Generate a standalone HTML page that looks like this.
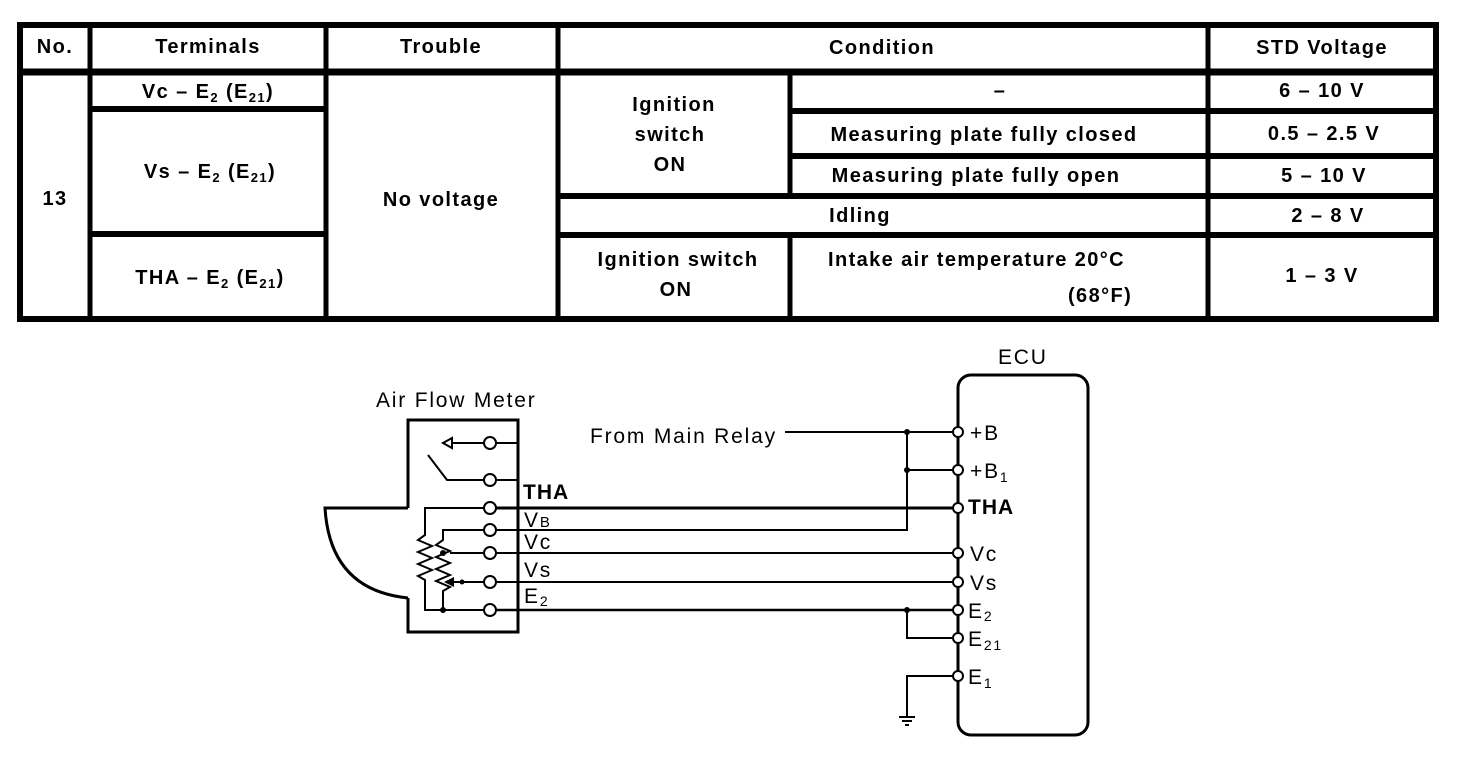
<!DOCTYPE html>
<html><head><style>
html,body{margin:0;padding:0;background:#fff;}
svg{display:block;}
text{font-family:"Liberation Sans",sans-serif;fill:#000;}
.b{font-weight:bold;font-size:20px;letter-spacing:1.4px;}
.n{font-size:21px;letter-spacing:1.8px;}
</style></head><body>
<svg width="1472" height="764" viewBox="0 0 1472 764" xmlns="http://www.w3.org/2000/svg">
<!-- TABLE -->
<g stroke="#000" fill="none">
<rect x="20" y="25" width="1416" height="294" stroke-width="6"/>
<line x1="18" y1="72" x2="1438" y2="72" stroke-width="7"/>
<line x1="90" y1="25" x2="90" y2="320" stroke-width="5"/>
<line x1="326" y1="25" x2="326" y2="320" stroke-width="5"/>
<line x1="558" y1="25" x2="558" y2="320" stroke-width="5"/>
<line x1="1208" y1="25" x2="1208" y2="320" stroke-width="5"/>
<line x1="790" y1="72" x2="790" y2="196" stroke-width="5"/>
<line x1="790" y1="235" x2="790" y2="320" stroke-width="5"/>
<line x1="90" y1="109" x2="326" y2="109" stroke-width="6"/>
<line x1="90" y1="234" x2="326" y2="234" stroke-width="6"/>
<line x1="790" y1="111" x2="1438" y2="111" stroke-width="6"/>
<line x1="790" y1="156" x2="1438" y2="156" stroke-width="6"/>
<line x1="558" y1="196" x2="1438" y2="196" stroke-width="6"/>
<line x1="558" y1="235" x2="1438" y2="235" stroke-width="6"/>
</g>
<g class="b" text-anchor="middle">
<text x="55" y="53">No.</text>
<text x="208" y="53">Terminals</text>
<text x="441" y="53">Trouble</text>
<text x="882" y="54">Condition</text>
<text x="1322" y="54">STD Voltage</text>
<text x="55" y="205">13</text>
<text x="208" y="98">Vc – E<tspan font-size="13" dy="4">2</tspan><tspan dy="-4"> (E</tspan><tspan font-size="13" dy="4">21</tspan><tspan dy="-4">)</tspan></text>
<text x="210" y="178">Vs – E<tspan font-size="13" dy="4">2</tspan><tspan dy="-4"> (E</tspan><tspan font-size="13" dy="4">21</tspan><tspan dy="-4">)</tspan></text>
<text x="210" y="284">THA – E<tspan font-size="13" dy="4">2</tspan><tspan dy="-4"> (E</tspan><tspan font-size="13" dy="4">21</tspan><tspan dy="-4">)</tspan></text>
<text x="441" y="206">No voltage</text>
<text x="674" y="111">Ignition</text>
<text x="670" y="141">switch</text>
<text x="670" y="171">ON</text>
<text x="1000" y="97">–</text>
<text x="984" y="141">Measuring plate fully closed</text>
<text x="976" y="182">Measuring plate fully open</text>
<text x="860" y="222">Idling</text>
<text x="678" y="266">Ignition switch</text>
<text x="676" y="296">ON</text>
<text x="1322" y="97">6 – 10 V</text>
<text x="1324" y="140">0.5 – 2.5 V</text>
<text x="1324" y="182">5 – 10  V</text>
<text x="1328" y="222">2 – 8   V</text>
<text x="1322" y="282">1 – 3 V</text>
</g>
<text class="b" x="828" y="266">Intake air temperature 20°C</text>
<text class="b" x="1068" y="302">(68°F)</text>

<!-- DIAGRAM -->
<g stroke="#000" fill="none" stroke-width="2">
<path d="M408 508 V420 H518 V632 H408 V598" stroke-width="3"/>
<path d="M408 508 H325 Q330 590 408 598" stroke-width="3"/>
<path d="M445 443 H484"/>
<path d="M452 438 L443 443 L452 448 Z" fill="#fff"/>
<path d="M428 455 L447 480 H484"/>
<line x1="496" y1="443" x2="518" y2="443"/>
<line x1="496" y1="480" x2="518" y2="480"/>
<path d="M484 508 H425 V535 l-7 5 l14 6 l-14 6 l14 6 l-14 6 l14 6 l-14 6 l7 4 V610 H484"/>
<path d="M484 530 H443 V540 l-7 5 l14 6 l-14 6 l14 6 l-14 6 l14 6 l-14 6 l14 6 l-7 4 V610"/>
<path d="M484 553 H450"/>
<path d="M484 582 H452"/>
<path d="M496 508 H952" stroke-width="3"/>
<path d="M496 530 H907 V432"/>
<path d="M496 553 H952"/>
<path d="M496 582 H952"/>
<path d="M496 610 H952" stroke-width="2.5"/>
<path d="M785 432 H952"/>
<path d="M907 470 H952"/>
<path d="M907 610 V638 H952"/>
<path d="M952 676 H907 V716"/>
<path d="M899 717 H915 M902 721 H912 M905 725 H909"/>
<rect x="958" y="375" width="130" height="360" rx="13" stroke-width="3"/>
</g>
<g fill="#000">
<circle cx="907" cy="432" r="3"/><circle cx="907" cy="470" r="3"/><circle cx="907" cy="610" r="3"/>
<circle cx="443" cy="610" r="3"/><circle cx="443" cy="553" r="3"/>
<path d="M444 582 L454 577 V587 Z"/><circle cx="462" cy="582" r="2.5"/>
</g>
<g fill="#fff" stroke="#000" stroke-width="2">
<circle cx="490" cy="443" r="6"/><circle cx="490" cy="480" r="6"/><circle cx="490" cy="508" r="6"/>
<circle cx="490" cy="530" r="6"/><circle cx="490" cy="553" r="6"/><circle cx="490" cy="582" r="6"/><circle cx="490" cy="610" r="6"/>
<circle cx="958" cy="432" r="5"/><circle cx="958" cy="470" r="5"/><circle cx="958" cy="508" r="5"/>
<circle cx="958" cy="553" r="5"/><circle cx="958" cy="582" r="5"/><circle cx="958" cy="610" r="5"/>
<circle cx="958" cy="638" r="5"/><circle cx="958" cy="676" r="5"/>
</g>
<g class="n">
<text x="376" y="407">Air Flow Meter</text>
<text x="998" y="364">ECU</text>
<text x="590" y="443">From Main Relay</text>
<text x="523" y="499" font-weight="bold" letter-spacing="1">THA</text>
<text x="524" y="527">V<tspan font-size="15">B</tspan></text>
<text x="524" y="549">Vc</text>
<text x="524" y="577">Vs</text>
<text x="524" y="603">E<tspan font-size="14" dy="3">2</tspan></text>
<text x="970" y="440">+B</text>
<text x="970" y="478">+B<tspan font-size="14" dy="4">1</tspan></text>
<text x="968" y="514" font-weight="bold" letter-spacing="1">THA</text>
<text x="970" y="561">Vc</text>
<text x="970" y="590">Vs</text>
<text x="968" y="618">E<tspan font-size="14" dy="3">2</tspan></text>
<text x="968" y="646">E<tspan font-size="14" dy="4">21</tspan></text>
<text x="968" y="684">E<tspan font-size="14" dy="4">1</tspan></text>
</g>
</svg>
</body></html>
